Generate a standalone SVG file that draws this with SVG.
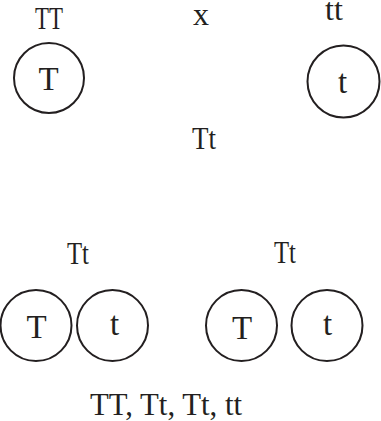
<svg xmlns="http://www.w3.org/2000/svg" width="381" height="421" viewBox="0 0 381 421">
  <style>
    .bg { fill: #ffffff; }
    .cell { fill: none; stroke: #231f20; stroke-width: 2; }
    .lbl { font-family: "Liberation Serif", "Times New Roman", serif; font-size: 32px; fill: #231f20; text-anchor: middle; }
    .al { font-family: "Liberation Serif", "Times New Roman", serif; font-size: 33px; fill: #231f20; text-anchor: middle; }
  </style>
  <rect class="bg" x="0" y="0" width="381" height="421"/>

  <!-- parental generation -->
  <g id="parent-TT">
    <text class="lbl" x="49" y="29" font-size="33" textLength="28" lengthAdjust="spacingAndGlyphs">TT</text>
    <circle class="cell" cx="49" cy="78" r="35"/>
    <text class="al" x="48.5" y="90">T</text>
  </g>
  <g id="cross">
    <text class="lbl" x="201" y="25" font-size="29">x</text>
  </g>
  <g id="parent-tt">
    <text class="lbl" x="334" y="20" font-size="26">tt</text>
    <circle class="cell" cx="343.5" cy="81.5" r="36"/>
    <text class="al" x="342.5" y="93">t</text>
  </g>

  <!-- F1 generation -->
  <g id="f1">
    <text class="lbl" x="204" y="149" textLength="24" lengthAdjust="spacingAndGlyphs">Tt</text>
  </g>

  <!-- F1 gametes -->
  <g id="f1-left">
    <text class="lbl" x="78" y="264" font-size="31" textLength="22" lengthAdjust="spacingAndGlyphs">Tt</text>
    <circle class="cell" cx="36" cy="325.5" r="35.5"/>
    <text class="al" x="36.5" y="338">T</text>
    <circle class="cell" cx="112.5" cy="325.5" r="35.5"/>
    <text class="al" x="114.5" y="335">t</text>
  </g>
  <g id="f1-right">
    <text class="lbl" x="285" y="263" font-size="31" textLength="22" lengthAdjust="spacingAndGlyphs">Tt</text>
    <circle class="cell" cx="241.5" cy="325.5" r="35.5"/>
    <text class="al" x="242" y="339">T</text>
    <circle class="cell" cx="327" cy="325.5" r="35.5"/>
    <text class="al" x="327.5" y="335">t</text>
  </g>

  <!-- F2 genotypes -->
  <g id="f2">
    <text class="lbl" x="166" y="415" textLength="152" lengthAdjust="spacingAndGlyphs">TT, Tt, Tt, tt</text>
  </g>
</svg>
